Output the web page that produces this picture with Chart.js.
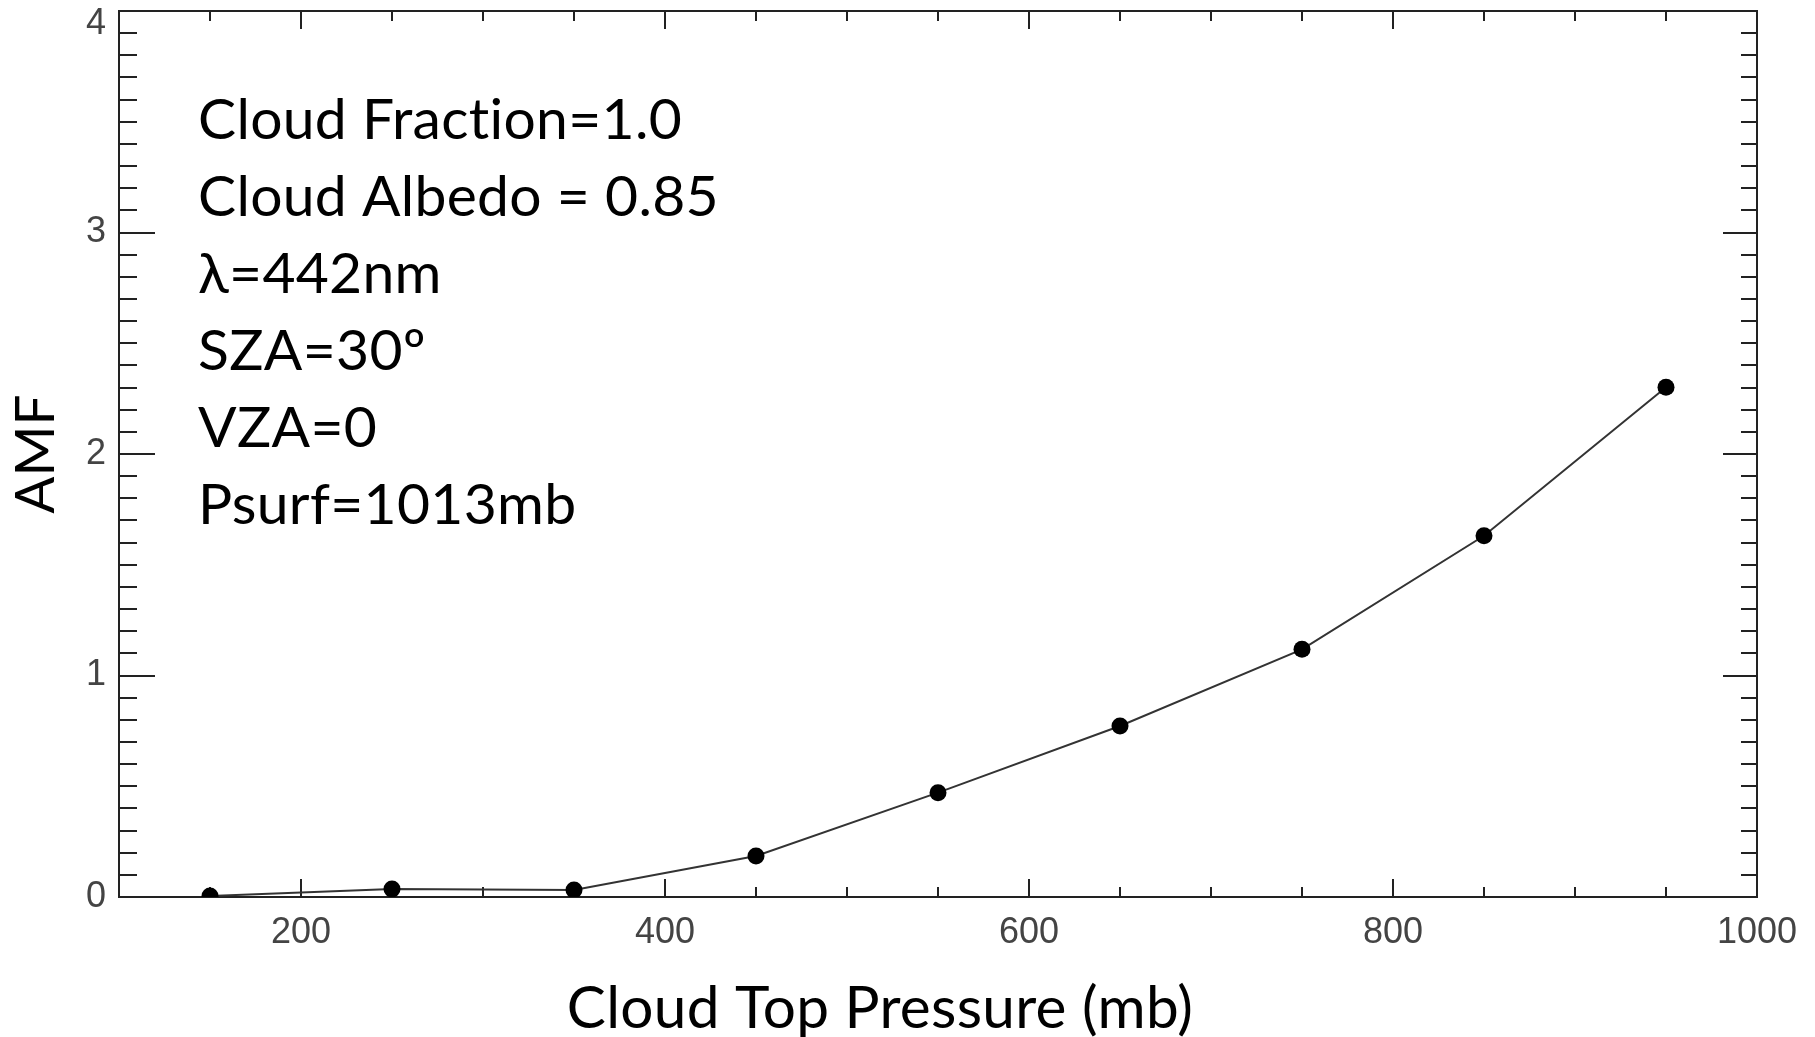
<!DOCTYPE html>
<html>
<head>
<meta charset="utf-8">
<title>AMF vs cloud top pressure</title>
<script src="https://cdn.jsdelivr.net/npm/chart.js@4.4.1/dist/chart.umd.min.js"></script>
<style>
  html, body { margin: 0; padding: 0; background: #fff; }
  #wrap { width: 1815px; height: 1037px; position: relative; }
</style>
</head>
<body>
<div id="wrap"><canvas id="amfChart"></canvas></div>
<script>
// AMF as a function of cloud top pressure
const pressures = [150, 250, 350, 450, 550, 650, 750, 850, 950];
const amf = [0.005, 0.036, 0.032, 0.185, 0.471, 0.772, 1.118, 1.631, 2.301];

const xTickLabels = [200, 400, 600, 800, 1000];
const yTickLabels = [0, 1, 2, 3, 4];

const infoLines = [
  'Cloud Fraction=1.0',
  'Cloud Albedo = 0.85',
  'λ=442nm',
  'SZA=30º',
  'VZA=0',
  'Psurf=1013mb'
];
const xTitle = 'Cloud Top Pressure (mb)';
const yTitle = 'AMF';

const ink = '#222';
const tickFont = 'Liberation Sans';

// grid lines are dashed so only short inward ticks show on both sides of the frame
const xDash = c => {
  if (!c.tick) return [];
  const a = c.chart.chartArea;
  const h = a.bottom - a.top;
  const len = c.tick.value % 200 === 0 ? 18 : 10;
  return [len, h - 2 * len];
};
const yDash = c => {
  if (!c.tick) return [];
  const a = c.chart.chartArea;
  const w = a.right - a.left;
  const v = c.tick.value;
  const len = Math.abs(v - Math.round(v)) < 1e-6 ? 35 : 17;
  return [len, w - 2 * len];
};

// fixed axis sizes, no extra room for overhanging labels
const fixSize = (w, h) => s => {
  if (w !== null) s.width = w;
  if (h !== null) s.height = h;
  s.paddingTop = 0;
  s.paddingBottom = 0;
  s.paddingLeft = 0;
  s.paddingRight = 0;
};

// parameter list and x axis title
const textNotes = {
  id: 'textNotes',
  afterDraw(chart) {
    const c = chart.ctx;
    c.save();
    c.fillStyle = '#000';
    c.textBaseline = 'alphabetic';
    c.textAlign = 'left';
    c.letterSpacing = '0.3px';
    c.font = '57px Lato';
    infoLines.forEach((line, i) => c.fillText(line, 198, 139 + i * 77));
    c.textAlign = 'center';
    c.font = '58.5px Lato';
    c.fillText(xTitle, 880, 1028);
    c.restore();
  }
};

const ctx = document.getElementById('amfChart').getContext('2d');

const myChart = new Chart(ctx, {
  type: 'line',
  data: {
    datasets: [{
      data: pressures.map((p, i) => ({ x: p, y: amf[i] })),
      borderColor: '#333',
      borderWidth: 2,
      tension: 0,
      pointRadius: 8.5,
      pointBorderWidth: 0,
      pointBackgroundColor: '#000',
      xAxisID: 'x',
      yAxisID: 'y'
    }]
  },
  options: {
    responsive: true,
    maintainAspectRatio: false,
    animation: false,
    layout: { padding: { top: 11, right: 58, left: 0, bottom: 0 } },
    plugins: {
      legend: { display: false },
      tooltip: { enabled: false }
    },
    scales: {
      x: {
        type: 'linear',
        position: 'bottom',
        min: 100,
        max: 1000,
        afterFit: fixSize(null, 140),
        ticks: {
          stepSize: 50,
          autoSkip: false,
          maxRotation: 0,
          padding: 14,
          color: '#444',
          font: { family: tickFont, size: 36 },
          callback: v => xTickLabels.includes(v) ? String(v) : ''
        },
        grid: { drawTicks: false, color: ink, lineWidth: 2 },
        border: { display: true, color: ink, width: 2, dash: xDash }
      },
      y: {
        type: 'linear',
        position: 'left',
        min: 0,
        max: 4,
        afterFit: fixSize(119, null),
        ticks: {
          stepSize: 0.1,
          maxTicksLimit: 100,
          autoSkip: false,
          padding: 13,
          color: '#444',
          font: c => ({
            family: tickFont,
            size: 36,
            lineHeight: (c.tick && c.tick.value === 4) ? 0.72 : 1.2
          }),
          callback: v => {
            const t = yTickLabels.find(n => Math.abs(n - v) < 1e-6);
            if (t === undefined) return '';
            return t === 4 ? ['', String(t)] : String(t);
          }
        },
        grid: { drawTicks: false, color: ink, lineWidth: 2 },
        border: { display: true, color: ink, width: 2, dash: yDash },
        title: {
          display: true,
          text: yTitle,
          color: '#000',
          font: { family: 'Lato', size: 55 },
          padding: { top: 3, bottom: 0 }
        }
      },
      // top and right frame lines
      x2: {
        type: 'linear',
        position: 'top',
        display: true,
        afterFit: fixSize(null, 0),
        ticks: { display: false },
        grid: { drawTicks: false, color: 'transparent' },
        border: { display: true, color: ink, width: 2 }
      },
      y2: {
        type: 'linear',
        position: 'right',
        display: true,
        afterFit: fixSize(0, null),
        ticks: { display: false },
        grid: { drawTicks: false, color: 'transparent' },
        border: { display: true, color: ink, width: 2 }
      }
    }
  },
  plugins: [textNotes]
});
</script>
</body>
</html>
